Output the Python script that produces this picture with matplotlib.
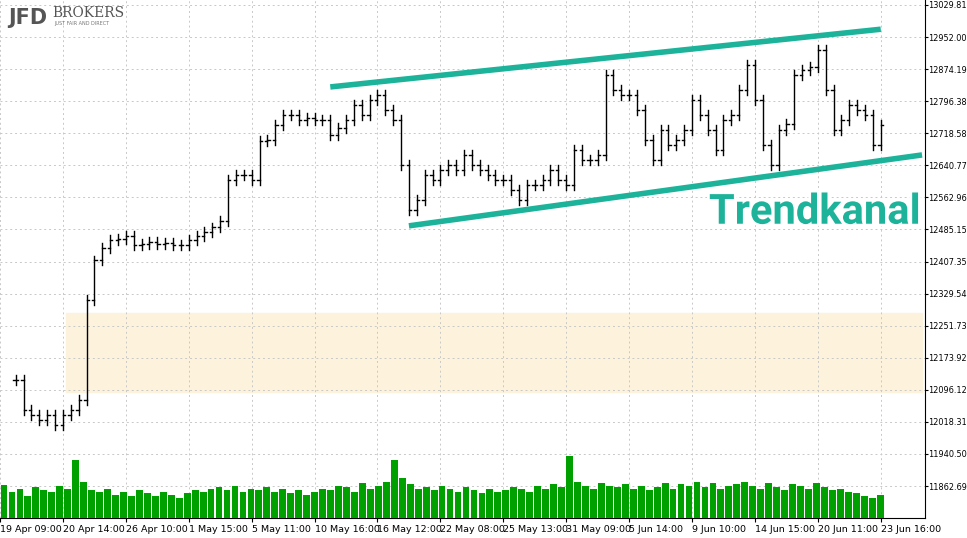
import matplotlib
matplotlib.use("Agg")
import matplotlib.pyplot as plt
import matplotlib.patheffects as pe
import numpy as np

closes = [12120,12047,12035,12023,12035,12011,12035,12047,12072,12314,12410,12440,12460,12462,12470,12448,
12450,12455,12450,12452,12448,12448,12460,12470,12480,12490,12505,12605,12617,12617,12605,12700,12702,12739,
12763,12763,12751,12756,12751,12751,12714,12731,12751,12787,12763,12799,12811,12775,12751,12642,12533,12557,
12617,12605,12630,12642,12630,12666,12642,12630,12617,12605,12605,12581,12557,12593,12593,12605,12630,12605,
12593,12678,12654,12654,12666,12860,12824,12811,12811,12775,12702,12654,12726,12690,12702,12726,12799,12763,
12726,12678,12751,12763,12824,12884,12800,12690,12642,12726,12740,12860,12872,12880,12920,12824,12726,12751,
12787,12775,12763,12690,12739]
volumes = [45,35,40,30,42,38,36,44,40,80,50,38,35,40,32,36,30,38,34,30,36,32,28,34,38,36,40,42,38,44,36,
40,38,42,36,40,34,38,32,36,40,38,44,42,36,48,40,44,50,80,55,46,40,42,38,44,40,36,42,38,34,40,36,38,42,40,
36,44,40,46,42,85,50,44,40,48,44,42,46,40,44,38,42,48,40,46,44,50,42,48,40,44,46,50,44,40,48,42,38,46,44,
40,48,42,38,40,36,34,30,28,32]
ytick_vals = [13029.81,12952.00,12874.19,12796.38,12718.58,12640.77,12562.96,12485.15,12407.35,12329.54,
12251.73,12173.92,12096.12,12018.31,11940.50,11862.69]
xtick_px = [-16,48,112,176,240,304,368,432,496,560,624,688,752,816,880]
xtick_labels = ["19 Apr 09:00","20 Apr 14:00","26 Apr 10:00","1 May 15:00","5 May 11:00","10 May 16:00",
"16 May 12:00","22 May 08:00","25 May 13:00","31 May 09:00","5 Jun 14:00","9 Jun 10:00","14 Jun 15:00",
"20 Jun 11:00","23 Jun 16:00"]
upper_line = ([40, 110], [12831, 12971])
lower_line = ([50, 115.25], [12494, 12666])
band = (7.75, 12091, 12282)

W, H = 967, 538
fig = plt.figure(figsize=(W/100, H/100), dpi=100)
AW = 925
ax = fig.add_axes([0, 20/H, AW/W, 518/H])
ylo, yhi = 13041.9 - 518*2.426, 13041.9
ax.set_ylim(ylo, yhi)
xmax = AW/8
ax.set_xlim(-0.5, xmax)

ax.axhspan(band[1], band[2], xmin=(band[0]+0.5)/(xmax+0.5), xmax=922/AW, color="#fdf3dc", zorder=0)

x = np.arange(len(closes))
opens = [closes[0]] + closes[:-1]
for i, (o, c) in enumerate(zip(opens, closes)):
    hi = max(o, c) + 12; lo = min(o, c) - 12
    ax.plot([i, i], [lo, hi], color="black", lw=1, zorder=3)
    ax.plot([i-0.3, i], [o, o], color="black", lw=1, zorder=3)
    ax.plot([i, i+0.3], [c, c], color="black", lw=1, zorder=3)

vax = fig.add_axes([0, 20/H, AW/W, 100/H])
vax.set_xlim(-0.5, xmax)
vax.set_ylim(0, 137)
vax.bar(x, volumes, width=0.85, color="#00a000")
vax.axis("off")
vax.patch.set_alpha(0)

ax.plot(upper_line[0], upper_line[1], color="#1cb39a", lw=4, solid_capstyle="butt", zorder=4)
ax.plot(lower_line[0], lower_line[1], color="#1cb39a", lw=4, solid_capstyle="butt", zorder=4)

ax.text(115.0, 12527, "Trendkanal", color="#1cb39a", fontsize=30, fontweight="bold", ha="right", va="center",
        family="Roboto", path_effects=[pe.withStroke(linewidth=4, foreground="white")], zorder=5)

ax.yaxis.tick_right()
ax.set_yticks(ytick_vals)
ax.set_yticklabels([f"{v:.2f}" for v in ytick_vals], fontsize=5.9)
ax.tick_params(axis="y", length=2, pad=0.5)
ax.set_xticks([p/8 for p in xtick_px])
ax.set_xticklabels(xtick_labels, fontsize=6.8, ha="left")
ax.tick_params(axis="x", length=3, pad=2)
ax.grid(True, color="#c8c8c8", ls=(0, (2, 3)), lw=0.7)
for s in ["top", "left"]:
    ax.spines[s].set_visible(False)

fig.text(8/W, 1-18/H, "JFD", fontsize=15, fontweight="bold", color="#555555", va="center")
fig.text(52/W, 1-13/H, "BROKERS", fontsize=10, family="DejaVu Serif", color="#555555", va="center")
fig.text(54/W, 1-24/H, "JUST FAIR AND DIRECT", fontsize=3.5, color="#777777", va="center")
fig.savefig("out.png", dpi=100, facecolor="white")
